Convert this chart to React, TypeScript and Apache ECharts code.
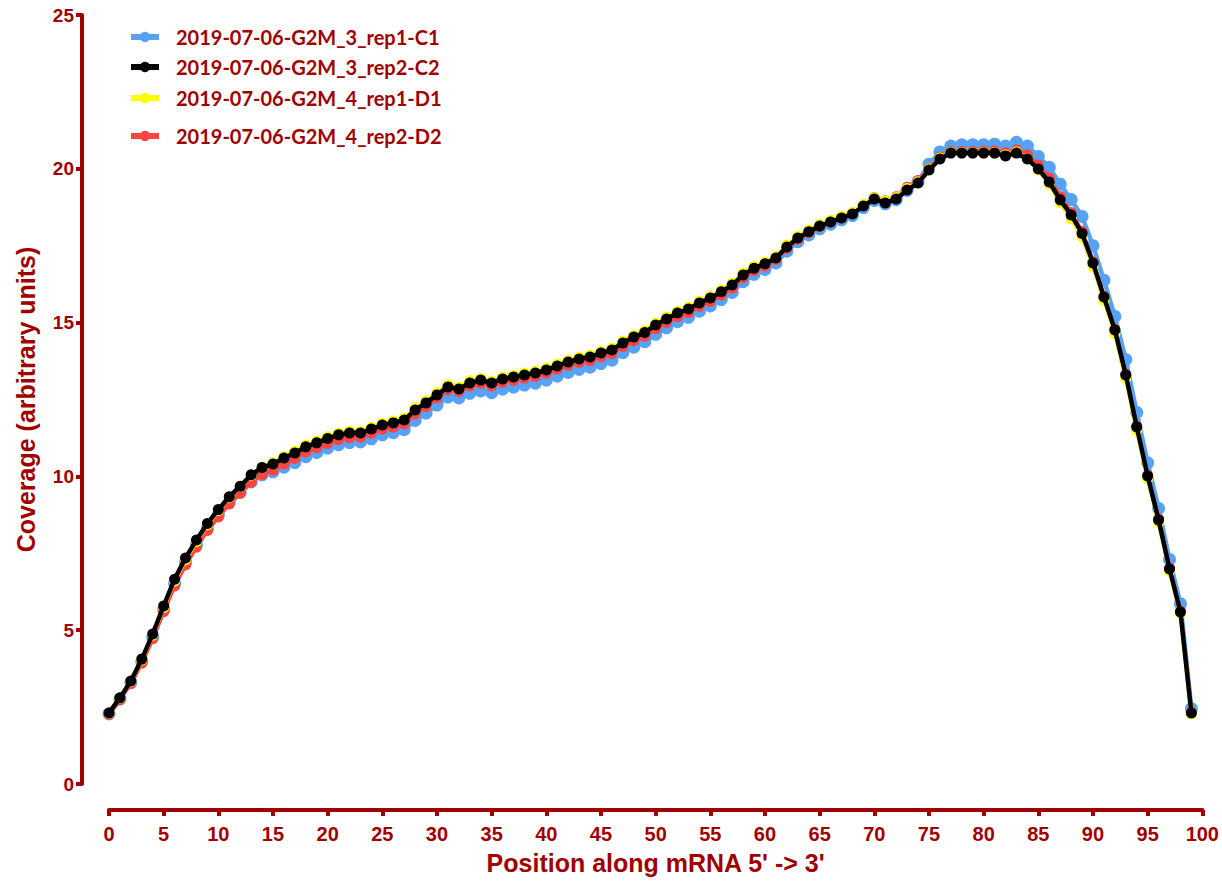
import React, { useEffect, useRef } from "react";
import * as echarts from "echarts";

const positions: number[] = Array.from({ length: 100 }, (_, i) => i);

const seriesNames = [
  "2019-07-06-G2M_3_rep1-C1",
  "2019-07-06-G2M_3_rep2-C2",
  "2019-07-06-G2M_4_rep1-D1",
  "2019-07-06-G2M_4_rep2-D2",
];

const c1: number[] = [
  2.28, 2.76, 3.30, 3.98, 4.78, 5.68, 6.52, 7.20, 7.78, 8.30,
  8.74, 9.14, 9.48, 9.82, 10.05, 10.15, 10.30, 10.45, 10.64, 10.78,
  10.92, 11.03, 11.10, 11.12, 11.22, 11.35, 11.42, 11.52, 11.82, 12.06,
  12.32, 12.58, 12.55, 12.70, 12.78, 12.72, 12.84, 12.90, 12.97, 13.03,
  13.13, 13.26, 13.38, 13.48, 13.55, 13.67, 13.78, 14.02, 14.20, 14.38,
  14.62, 14.83, 15.03, 15.17, 15.37, 15.54, 15.75, 15.98, 16.33, 16.57,
  16.73, 16.94, 17.32, 17.63, 17.85, 18.05, 18.20, 18.34, 18.48, 18.74,
  18.97, 18.86, 19.00, 19.30, 19.58, 20.15, 20.55, 20.74, 20.78, 20.78,
  20.78, 20.80, 20.74, 20.86, 20.74, 20.40, 20.05, 19.50, 19.00, 18.45,
  17.50, 16.38, 15.20, 13.80, 12.08, 10.44, 8.96, 7.30, 5.86, 2.45,
];

const c2: number[] = [
  2.31, 2.80, 3.35, 4.06, 4.88, 5.79, 6.66, 7.35, 7.93, 8.47,
  8.92, 9.34, 9.68, 10.05, 10.29, 10.40, 10.60, 10.76, 10.96, 11.09,
  11.23, 11.35, 11.41, 11.41, 11.54, 11.67, 11.74, 11.83, 12.16, 12.39,
  12.65, 12.91, 12.84, 13.04, 13.13, 13.04, 13.17, 13.23, 13.30, 13.36,
  13.46, 13.59, 13.72, 13.82, 13.88, 14.01, 14.11, 14.34, 14.53, 14.68,
  14.92, 15.12, 15.31, 15.44, 15.64, 15.80, 16.00, 16.22, 16.55, 16.77,
  16.91, 17.10, 17.46, 17.75, 17.95, 18.14, 18.27, 18.40, 18.53, 18.79,
  19.02, 18.89, 19.02, 19.31, 19.54, 19.96, 20.32, 20.51, 20.51, 20.51,
  20.51, 20.51, 20.42, 20.51, 20.32, 19.99, 19.57, 18.99, 18.50, 17.90,
  16.94, 15.83, 14.76, 13.30, 11.61, 10.01, 8.58, 6.99, 5.59, 2.31,
];

const d1: number[] = [
  2.30, 2.79, 3.33, 4.03, 4.84, 5.74, 6.60, 7.29, 7.88, 8.43,
  8.89, 9.32, 9.67, 10.04, 10.30, 10.44, 10.65, 10.82, 11.02, 11.15,
  11.29, 11.41, 11.47, 11.47, 11.60, 11.73, 11.80, 11.89, 12.23, 12.46,
  12.73, 12.98, 12.91, 13.11, 13.19, 13.10, 13.23, 13.29, 13.36, 13.42,
  13.52, 13.65, 13.78, 13.88, 13.94, 14.07, 14.17, 14.40, 14.59, 14.74,
  14.98, 15.18, 15.37, 15.50, 15.70, 15.86, 16.06, 16.28, 16.61, 16.83,
  16.97, 17.16, 17.52, 17.81, 18.01, 18.20, 18.33, 18.46, 18.59, 18.85,
  19.06, 18.95, 19.07, 19.36, 19.58, 19.99, 20.35, 20.53, 20.53, 20.53,
  20.53, 20.53, 20.45, 20.55, 20.33, 19.96, 19.50, 18.90, 18.38, 17.78,
  16.82, 15.72, 14.64, 13.18, 11.50, 9.92, 8.50, 6.92, 5.54, 2.28,
];

const d2: number[] = [
  2.27, 2.74, 3.26, 3.93, 4.72, 5.60, 6.44, 7.12, 7.70, 8.24,
  8.68, 9.10, 9.45, 9.81, 10.06, 10.20, 10.40, 10.58, 10.79, 10.93,
  11.07, 11.19, 11.26, 11.27, 11.40, 11.53, 11.60, 11.70, 12.03, 12.27,
  12.55, 12.82, 12.76, 12.94, 13.02, 12.94, 13.06, 13.12, 13.19, 13.25,
  13.35, 13.48, 13.61, 13.70, 13.76, 13.89, 13.99, 14.22, 14.41, 14.56,
  14.80, 15.00, 15.19, 15.32, 15.53, 15.69, 15.90, 16.12, 16.46, 16.69,
  16.84, 17.05, 17.41, 17.71, 17.92, 18.12, 18.26, 18.40, 18.55, 18.82,
  19.07, 18.96, 19.09, 19.40, 19.62, 20.02, 20.38, 20.56, 20.57, 20.57,
  20.58, 20.59, 20.52, 20.62, 20.46, 20.12, 19.70, 19.10, 18.58, 17.96,
  16.98, 15.86, 14.78, 13.32, 11.64, 10.04, 8.62, 7.02, 5.62, 2.32,
];

const colors = ["#55a2f7", "#000000", "#ffff00", "#ff4444"];
const legendTops = [22, 52, 83, 121];

const DARK_RED = "#a00000";
const AXIS_FONT = "Liberation Sans, Arial, sans-serif";

export default function App() {
  const ref = useRef<HTMLDivElement>(null);

  useEffect(() => {
    if (!ref.current) return;
    const chart = echarts.init(ref.current, undefined, { renderer: "svg" });
    const values = [c1, c2, d1, d2];
    const mk = (idx: number, lw: number, sym: number, z: number) => ({
      name: seriesNames[idx],
      type: "line",
      data: positions.map((p, i) => [p, values[idx][i]]),
      symbol: "circle",
      symbolSize: sym,
      showSymbol: true,
      lineStyle: { color: colors[idx], width: lw },
      itemStyle: { color: colors[idx] },
      z,
    });
    chart.setOption({
      animation: false,
      backgroundColor: "#ffffff",
      grid: { left: 109, right: 19, top: 15, bottom: 101, containLabel: false },
      legend: seriesNames.map((n, i) => ({
        data: [n],
        left: 123,
        top: legendTops[i],
        itemWidth: 28,
        itemHeight: 13,
        itemGap: 0,
        lineStyle: { width: 6 },
        textStyle: {
          color: DARK_RED,
          fontFamily: "Lato",
          fontWeight: "bold",
          fontSize: 20,
          padding: [0, 0, 0, 12],
        },
        selectedMode: false,
      })),
      xAxis: {
        type: "value",
        min: 0,
        max: 100,
        interval: 5,
        offset: 26,
        name: "Position along mRNA 5' -> 3'",
        nameLocation: "middle",
        nameGap: 40,
        nameTextStyle: {
          color: DARK_RED,
          fontFamily: AXIS_FONT,
          fontWeight: "bold",
          fontSize: 25,
        },
        axisLine: { show: true, onZero: false, lineStyle: { color: DARK_RED, width: 4 } },
        axisTick: { show: true, length: 6, lineStyle: { color: DARK_RED, width: 4 } },
        axisLabel: {
          color: DARK_RED,
          fontFamily: AXIS_FONT,
          fontWeight: "bold",
          fontSize: 20,
          margin: 14,
        },
        splitLine: { show: false },
      },
      yAxis: {
        type: "value",
        min: 0,
        max: 25,
        interval: 5,
        offset: 27,
        name: "Coverage (arbitrary units)",
        nameLocation: "middle",
        nameGap: 44,
        nameRotate: 90,
        nameTextStyle: {
          color: DARK_RED,
          fontFamily: AXIS_FONT,
          fontWeight: "bold",
          fontSize: 25,
        },
        axisLine: { show: true, onZero: false, lineStyle: { color: DARK_RED, width: 4 } },
        axisTick: { show: true, length: 6, lineStyle: { color: DARK_RED, width: 4 } },
        axisLabel: {
          color: DARK_RED,
          fontFamily: AXIS_FONT,
          fontWeight: "bold",
          fontSize: 19,
          margin: 8,
        },
        splitLine: { show: false },
      },
      series: [mk(0, 4.5, 13, 1), mk(3, 4, 11, 2), mk(2, 4, 11, 3), mk(1, 4.5, 11, 4)],
    });
    return () => chart.dispose();
  }, []);

  return (
    <div
      ref={ref}
      style={{ position: "fixed", left: 0, top: 0, width: 1222, height: 885, background: "#fff" }}
    />
  );
}
